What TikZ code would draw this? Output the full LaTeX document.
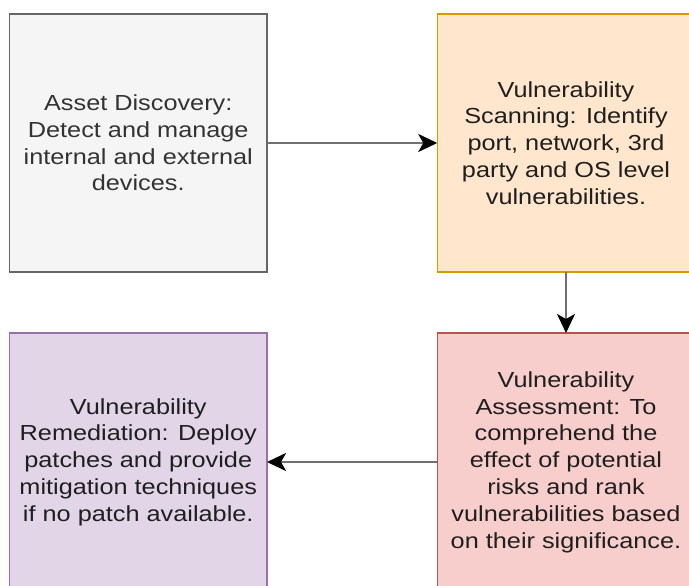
\documentclass[tikz,border=0pt]{standalone}
\usepackage{fontspec}
\setmainfont{Liberation Sans}[FakeStretch=1.16]
\usetikzlibrary{arrows.meta}
\definecolor{grayfill}{HTML}{F5F5F5}
\definecolor{graydraw}{HTML}{666666}
\definecolor{orangefill}{HTML}{FFE6CC}
\definecolor{orangedraw}{HTML}{D79B00}
\definecolor{redfill}{HTML}{F8CECC}
\definecolor{reddraw}{HTML}{B85450}
\definecolor{purplefill}{HTML}{E1D5E7}
\definecolor{purpledraw}{HTML}{9673A6}
\definecolor{linegray}{HTML}{707070}
\definecolor{darktext}{HTML}{333333}
\begin{document}
\begin{tikzpicture}[x=1pt,y=-1pt,
  box/.style={draw, line width=1.4pt, minimum width=257.5pt, minimum height=258pt,
    align=center, inner sep=0pt, outer sep=0pt,
    font=\fontsize{21.8}{26.8}\selectfont},
  flow/.style={line width=2.4pt, draw=linegray,
    -{Stealth[length=19pt,width=18pt,inset=5pt,color=black]}}]
\useasboundingbox (0,0) rectangle (689,586);
\begin{scope}
\clip (0,0) rectangle (689,586);
\fill[white] (0,0) rectangle (689,586);

% process stages
\node[box, fill=grayfill, draw=graydraw, text=darktext] (disc) at (138.25,143)
  {Asset Discovery:\\Detect and manage\\internal and external\\devices.};
\node[box, fill=orangefill, draw=orangedraw, text=black!88] (scan) at (566,143)
  {Vulnerability\\Scanning: Identify\\port, network, 3rd\\party and OS level\\vulnerabilities.};
\node[box, fill=redfill, draw=reddraw, text=black!88] (assess) at (566,462)
  {Vulnerability\\Assessment: To\\comprehend the\\effect of potential\\risks and rank\\vulnerabilities based\\on their significance.};
\node[box, fill=purplefill, draw=purpledraw, text=black!88] (remed) at (138.25,462)
  {Vulnerability\\Remediation: Deploy\\patches and provide\\mitigation techniques\\if no patch available.};

% flow between stages
\draw[flow] (disc) -- (scan);
\draw[flow] (scan) -- (assess);
\draw[flow] (assess) -- (remed);
\end{scope}
\end{tikzpicture}
\end{document}
